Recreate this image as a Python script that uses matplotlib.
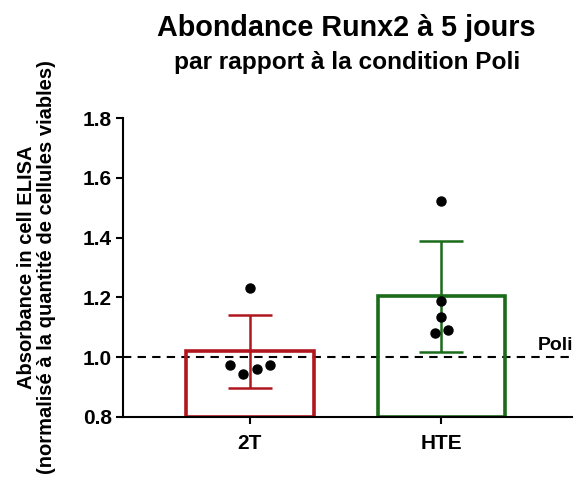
import matplotlib.pyplot as plt
import numpy as np

plt.rcParams['font.family'] = ['Liberation Sans', 'DejaVu Sans']
plt.rcParams['font.weight'] = 'bold'

# data
groups = ["2T", "HTE"]
means = [1.02, 1.205]
err_low = [0.897, 1.017]
err_high = [1.14, 1.388]
colors = ["#B0161E", "#1A6B1A"]

pts_2t = [1.233, 0.973, 0.943, 0.960, 0.973]
jit_2t = [0.0, -0.104, -0.036, 0.036, 0.104]
pts_hte = [1.523, 1.187, 1.133, 1.080, 1.090]
jit_hte = [0.0, 0.0, 0.0, -0.036, 0.036]

yticks = [0.8, 1.0, 1.2, 1.4, 1.6, 1.8]

fig = plt.figure(figsize=(5.76, 4.9), dpi=100)
ax = fig.add_axes([0.2135, 0.149, 0.7795, 0.61])

x = np.arange(len(groups))
ax.bar(x, [m - 0.8 for m in means], bottom=0.8, width=0.667,
       facecolor="none", edgecolor=colors, linewidth=2.6, zorder=2)

for i in range(len(groups)):
    yerr = [[means[i] - err_low[i]], [err_high[i] - means[i]]]
    ax.errorbar(x[i], means[i], yerr=yerr, fmt="none", ecolor=colors[i],
                elinewidth=1.8, capsize=16, capthick=1.8, zorder=3)

ax.plot(x[0] + np.array(jit_2t), pts_2t, "o", color="black", ms=6.5, zorder=4)
ax.plot(x[1] + np.array(jit_hte), pts_hte, "o", color="black", ms=6.5, zorder=4)

ax.axhline(1.0, color="black", linestyle=(0, (4, 3)), linewidth=1.5, zorder=1)
ax.text(1.50, 1.012, "Poli", fontsize=14, fontweight="bold", ha="left", va="bottom")

ax.set_xlim(-0.66, 1.68)
ax.set_ylim(0.8, 1.8)
ax.set_yticks(yticks)
ax.set_yticklabels([f"{v:.1f}" for v in yticks])
ax.set_xticks(x)
ax.set_xticklabels(groups)
ax.tick_params(axis="y", labelsize=15, width=1.5, length=5, direction="out", pad=3)
ax.tick_params(axis="x", labelsize=15, width=1.5, length=5, direction="out", pad=7)
for s in ["top", "right"]:
    ax.spines[s].set_visible(False)
for s in ["left", "bottom"]:
    ax.spines[s].set_linewidth(1.5)

ax.set_ylabel("Absorbance in cell ELISA\n(normalisé à la quantité de cellules viables)",
              fontsize=14.5, fontweight="bold", linespacing=1.05)
ax.yaxis.set_label_coords(-0.149, 0.5)

fig.text(0.601, 0.943, "Abondance Runx2 à 5 jours", fontsize=20.7, fontweight="bold",
         ha="center", va="center")
fig.text(0.602, 0.873, "par rapport à la condition Poli", fontsize=17.6, fontweight="bold",
         ha="center", va="center")

fig.savefig("out.png", dpi=100)
